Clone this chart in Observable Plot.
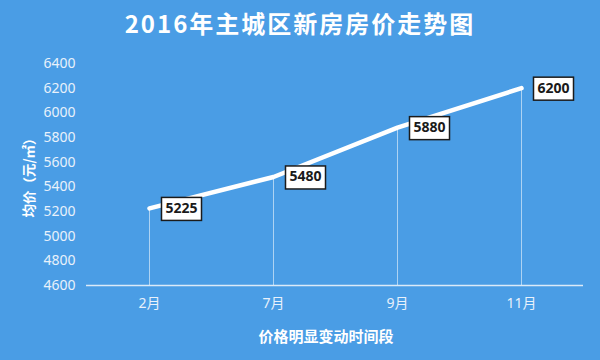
<!DOCTYPE html>
<html>
<head>
<meta charset="utf-8">
<script src="https://cdn.jsdelivr.net/npm/d3@7"></script>
<script src="https://cdn.jsdelivr.net/npm/@observablehq/plot@0.6"></script>
<style>
  html, body { margin: 0; padding: 0; background: #4a9de5; }
  #wrap { width: 600px; height: 360px; background: #4a9de5; overflow: hidden; font-family: "Noto Sans", "Noto Sans CJK SC", sans-serif; }
  #title { height: 44px; line-height: 46px; text-align: center; color: #fff; font-weight: bold; font-size: 24px; letter-spacing: 2px; font-family: "Noto Sans CJK SC", sans-serif; }
</style>
</head>
<body>
<div id="wrap">
  <div id="title">2016年主城区新房房价走势图</div>
  <div id="chart"></div>
</div>
<script>
const months = ["2月", "7月", "9月", "11月"];
const prices = [5225, 5480, 5880, 6200];
const yTicks = [4600, 4800, 5000, 5200, 5400, 5600, 5800, 6000, 6200, 6400];
const yLabel = "均价（元/㎡）";
const xLabel = "价格明显变动时间段";

const data = months.map((m, i) => ({month: m, price: prices[i]}));

const labelBox = (index, scales, values, dimensions, context, next) => {
  const g = next(index, scales, values, dimensions, context);
  const boxes = document.createElementNS("http://www.w3.org/2000/svg", "g");
  for (const i of index) {
    const r = document.createElementNS("http://www.w3.org/2000/svg", "rect");
    r.setAttribute("x", values.x[i] - 4);
    r.setAttribute("y", values.y[i] - 11);
    r.setAttribute("width", 40);
    r.setAttribute("height", 23);
    r.setAttribute("fill", "#fff");
    r.setAttribute("stroke", "#1b1b1b");
    r.setAttribute("stroke-width", 1.5);
    boxes.appendChild(r);
  }
  g.insertBefore(boxes, g.firstChild);
  return g;
};

const chart = Plot.plot({
  width: 600,
  height: 316,
  marginLeft: 86,
  marginRight: 17,
  marginTop: 19,
  marginBottom: 75,
  style: {background: "transparent", color: "#e8f1fb", fontFamily: "'Noto Sans', 'Noto Sans CJK SC', sans-serif"},
  x: {type: "point", domain: months, padding: 0.5, label: null},
  y: {domain: [4600, 6400], label: null},
  marks: [
    Plot.axisY({ticks: yTicks, tickFormat: d => String(d), tickSize: 0, tickPadding: 11, fontSize: 14, fill: "#e8f1fb", label: null}),
    Plot.axisX({tickSize: 0, tickPadding: 13, fontSize: 14, fill: "#e8f1fb", label: null}),
    Plot.ruleY([4600], {stroke: "#dbeaf8", strokeWidth: 1.5}),
    Plot.ruleX(data, {x: "month", y1: 4600, y2: "price", stroke: "#ffffff", strokeOpacity: 0.55, strokeWidth: 1}),
    Plot.line(data, {x: "month", y: "price", stroke: "#ffffff", strokeWidth: 4.5, curve: "linear", strokeLinecap: "round", strokeLinejoin: "round"}),
    Plot.text(data, {x: "month", y: "price", text: d => String(d.price), textAnchor: "start", dx: 16, fill: "#1a1a1a", fontWeight: "bold", fontSize: 14, render: labelBox}),
    Plot.text([yLabel], {frameAnchor: "left", textAnchor: "middle", lineAnchor: "middle", rotate: -90, dx: -57, fill: "#ffffff", fontWeight: "bold", fontSize: 13.5, fontFamily: "'Noto Sans CJK SC', sans-serif"}),
    Plot.text([xLabel], {frameAnchor: "bottom", textAnchor: "middle", lineAnchor: "middle", dx: -9, dy: 52, fill: "#ffffff", fontWeight: "bold", fontSize: 15, fontFamily: "'Noto Sans CJK SC', sans-serif"})
  ]
});
document.getElementById("chart").appendChild(chart);
</script>
</body>
</html>
